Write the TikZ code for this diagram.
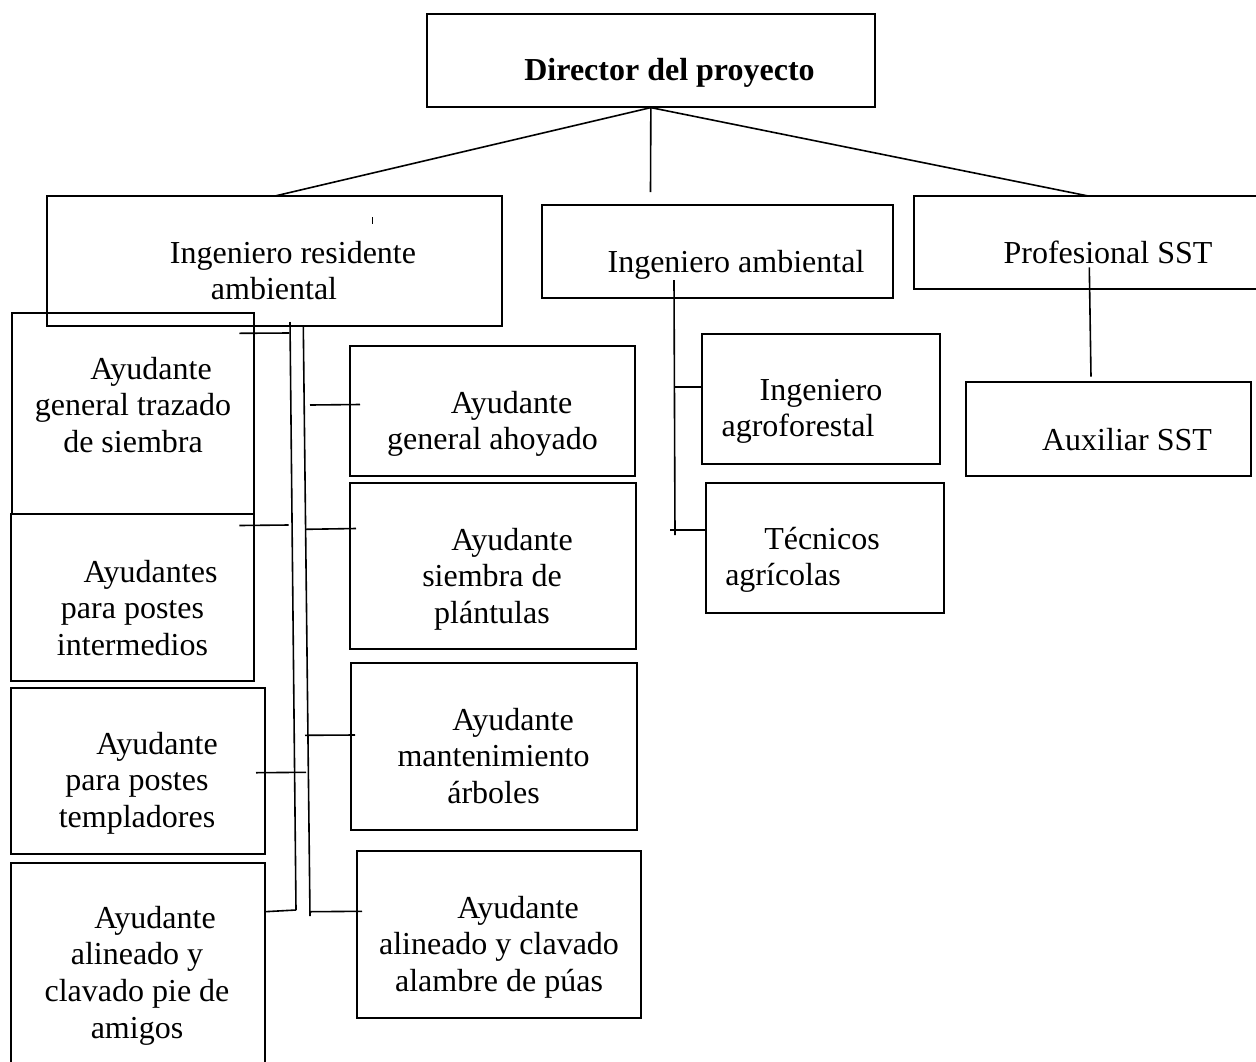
\documentclass[tikz,border=0pt]{standalone}
\usepackage{fontspec}
\setmainfont{Liberation Serif}
\usetikzlibrary{fit}
\newcommand\mlines[2]{\begin{tabular}[t]{@{}c@{}}\hspace*{#1}#2\end{tabular}}
\begin{document}
\begin{tikzpicture}[x=1pt,y=-1pt,
  box/.style={draw, line width=1.8pt, inner sep=0pt},
  txt/.style={inner sep=0pt, anchor=base, font=\fontsize{32}{36.8}\selectfont},
  conn/.style={line width=1.6pt},
  tick/.style={line width=1pt}]
\useasboundingbox (0,0) rectangle (1256,1061);
\clip (0,0) rectangle (1256,1061);

% boxes
\node[box, fit={(426.7,14) (875,106.7)}] (dir) {};
\node[box, fit={(46.7,196) (502,326)}] (ir) {};
\node[box, fit={(542.3,205) (892.7,298.3)}] (ia) {};
\node[box, fit={(914,196) (1275,289.3)}] (ps) {};
\node[box, fit={(966,382.3) (1250.7,475.7)}] (aux) {};
\node[box, fit={(701.7,334.3) (940,464)}] (agro) {};
\node[box, fit={(705.7,483.3) (944,613.3)}] (tec) {};
\node[box, fit={(12,313) (254,514)}] (traz) {};
\node[box, fit={(11,514) (254,681)}] (inter) {};
\node[box, fit={(11,687.7) (265,854)}] (templ) {};
\node[box, fit={(11,862.7) (265,1090)}] (pie) {};
\node[box, fit={(350,346) (635,475.7)}] (ahoy) {};
\node[box, fit={(350,482.7) (636,649.3)}] (siem) {};
\node[box, fit={(351,663) (637,830)}] (mant) {};
\node[box, fit={(357,851) (641,1018)}] (alam) {};

% texts
\node[txt] (tdir) at (669.5,80) {\bfseries Director del proyecto};
\node[txt] (tir) at (274,263) {\mlines{38pt}{Ingeniero residente\\ambiental}};
\node[txt] (tia) at (736,272) {Ingeniero ambiental};
\node[txt] (tps) at (1108,263) {Profesional SST};
\node[txt] (taux) at (1127,450) {Auxiliar SST};
\node[txt] (tagro) at (798,400) {\mlines{46pt}{Ingeniero\\agroforestal}};
\node[txt] (ttec) at (783,549) {\mlines{78pt}{Técnicos\\agrícolas}};
\node[txt] (ttraz) at (133,379) {\mlines{36pt}{Ayudante\\general trazado\\de siembra}};
\node[txt] (tahoy) at (492.5,413) {\mlines{38pt}{Ayudante\\general ahoyado}};
\node[txt] (tsiem) at (492,550) {\mlines{40pt}{Ayudante\\siembra de\\plántulas}};
\node[txt] (tinter) at (132.5,582) {\mlines{36pt}{Ayudantes\\para postes\\intermedios}};
\node[txt] (tmant) at (493.5,730) {\mlines{39pt}{Ayudante\\mantenimiento\\árboles}};
\node[txt] (ttempl) at (137,754) {\mlines{40pt}{Ayudante\\para postes\\templadores}};
\node[txt] (talam) at (499,918) {\mlines{38pt}{Ayudante\\alineado y clavado\\alambre de púas}};
\node[txt] (tpie) at (137,928) {\mlines{36pt}{Ayudante\\alineado y\\clavado pie de\\amigos}};

% connector end points
\coordinate (irtop) at (275,196);
\coordinate (midend) at (650.5,192);
\coordinate (pstop) at (1088.3,196);
\coordinate (busLa) at (290,322);
\coordinate (busLb) at (296,910);
\coordinate (busRa) at (303.3,326.7);
\coordinate (busRb) at (310,916);
\coordinate (trazR) at (239.3,333.3);
\coordinate (trazB) at (289.3,333);
\coordinate (interR) at (239.3,525.5);
\coordinate (interB) at (288.7,525);
\coordinate (templR) at (256,772.7);
\coordinate (templB) at (306,772.3);
\coordinate (pieR) at (265,911.7);
\coordinate (pieB) at (296,910);
\coordinate (ahoyB) at (310,405);
\coordinate (ahoyL) at (360,404.5);
\coordinate (siemB) at (306,529.3);
\coordinate (siemL) at (356,528.5);
\coordinate (mantB) at (305,735.3);
\coordinate (mantL) at (355,735);
\coordinate (alamB) at (310,911.7);
\coordinate (alamL) at (362,911.3);
\coordinate (iaA) at (674,280);
\coordinate (iaB) at (675,535);
\coordinate (agroB) at (674,386.7);
\coordinate (tecB) at (670,530);
\coordinate (psA) at (1089.3,267.3);
\coordinate (psB) at (1091,376.7);
\coordinate (tickA) at (372.3,217.3);
\coordinate (tickB) at (372.3,224.3);

% connectors
\draw[conn] (dir.south) -- (irtop);
\draw[conn] (dir.south) -- (midend);
\draw[conn] (dir.south) -- (pstop);
\draw[tick] (tickA) -- (tickB);
\draw[conn] (busLa) -- (busLb);
\draw[conn] (busRa) -- (busRb);
\draw[conn] (trazR) -- (trazB);
\draw[conn] (interR) -- (interB);
\draw[conn] (templR) -- (templB);
\draw[conn] (pieR) -- (pieB);
\draw[conn] (ahoyB) -- (ahoyL);
\draw[conn] (siemB) -- (siemL);
\draw[conn] (mantB) -- (mantL);
\draw[conn] (alamB) -- (alamL);
\draw[conn] (iaA) -- (iaB);
\draw[conn] (agroB) -- (agro.west |- agroB);
\draw[conn] (tecB) -- (tec.west |- tecB);
\draw[conn] (psA) -- (psB);
\end{tikzpicture}
\end{document}
